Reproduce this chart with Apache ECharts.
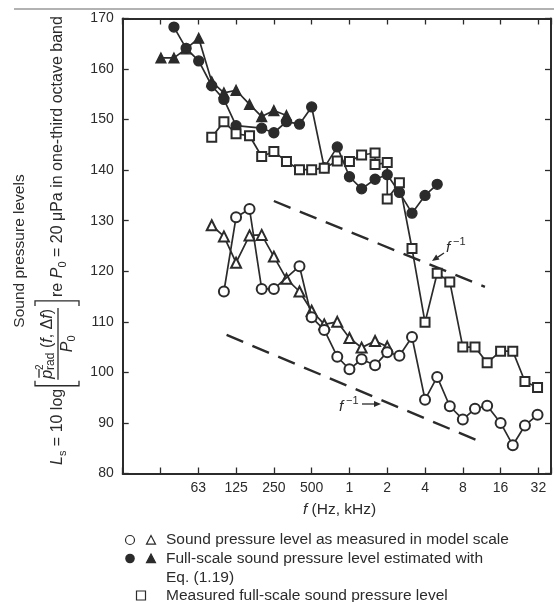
<!DOCTYPE html>
<html lang="en">
<head>
<meta charset="UTF-8" />
<title>Sound pressure levels</title>
<style>
  * { margin: 0; padding: 0; }
  body { background: #fff; }
  #chart { width: 554px; height: 602px; }
</style>
<script src="https://cdn.jsdelivr.net/npm/echarts@6/dist/echarts.min.js"></script>
</head>
<body>
<div id="chart"></div>
<script>
// one-third octave bands: [centre frequency in Hz, level in dB]
const fullScaleCircles = [
  [40, 168.3], [50, 164.1], [63, 161.6], [80, 156.7], [100, 154], [125, 148.8],
  [200, 148.3], [250, 147.4], [315, 149.6], [400, 149.1], [500, 152.5], [630, 140.5],
  [800, 144.6], [1000, 138.7], [1250, 136.3], [1600, 138.2], [2000, 139.1],
  [2500, 135.6], [3150, 131.5], [4000, 135], [5000, 137.2]
];
const fullScaleTriangles = [
  [31.5, 162.2], [40, 162.2], [50, 164], [63, 166.1], [80, 157.5], [100, 155.3],
  [125, 155.8], [160, 153], [200, 150.6], [250, 151.8], [315, 150.8]
];
const measuredSquares = [
  [80, 146.5], [100, 149.6], [125, 147.2], [160, 146.8], [200, 142.7], [250, 143.7],
  [315, 141.7], [400, 140.1], [500, 140.1], [630, 140.4], [800, 141.8], [1000, 141.7],
  [1250, 143], [1600, 143.4], [1600, 141.1], [2000, 141.5], [2000, 134.3], [2500, 137.5],
  [3150, 124.5], [4000, 109.9], [5000, 119.6], [6300, 117.9], [8000, 105], [10000, 105],
  [12500, 101.9], [16000, 104.2], [20000, 104.2], [25000, 98.2], [31500, 97]
];
const modelCircles = [
  [100, 116], [125, 130.7], [160, 132.3], [200, 116.5], [250, 116.5], [400, 121],
  [500, 110.9], [630, 108.4], [800, 103.1], [1000, 100.6], [1250, 102.6], [1600, 101.4],
  [2000, 104], [2500, 103.3], [3150, 107], [4000, 94.6], [5000, 99.1], [6300, 93.3],
  [8000, 90.7], [10000, 92.8], [12500, 93.4], [16000, 90], [20000, 85.6], [25000, 89.5],
  [31500, 91.6]
];
const modelTriangles = [
  [80, 129.1], [100, 126.9], [125, 121.7], [160, 127.1], [200, 127.2], [250, 122.9],
  [315, 118.5], [400, 116], [500, 112.2], [630, 109.5], [800, 110], [1000, 106.8],
  [1250, 104.9], [1600, 106.2], [2000, 105.1]
];
// f^-1 guide lines
const slopeUpper = [[250, 133.9], [12000, 116.9]];
const slopeLower = [[105, 107.4], [10100, 86.7]];

// octave ticks from 1000/64 Hz up, labels in Hz then kHz
const octaveLabels = ['', '', '63', '125', '250', '500', '1', '2', '4', '8', '16', '32'];

const INK = '#2b2b2b';
const FONT = '"Liberation Sans", Arial, sans-serif';
const FS = 15.5;
const FF = 16; // formula size

const oct = (f) => Math.log2(f / 1000);
const pts = (arr) => arr.map(([f, L]) => [oct(f), L]);

const chart = echarts.init(document.getElementById('chart'));

// text width helper for laying out the axis formula
const mctx = document.createElement('canvas').getContext('2d');
function tw(text, size, italic) {
  mctx.font = (italic ? 'italic ' : '') + size + 'px ' + FONT;
  return mctx.measureText(text).width;
}

function txt(x, y, text, size, italic, extra) {
  return {
    type: 'text', x: x, y: y,
    style: Object.assign({
      text: text, fontSize: size, fontFamily: FONT,
      fontStyle: italic ? 'italic' : 'normal', fill: INK,
      verticalAlign: 'middle'
    }, extra || {})
  };
}

// y axis formula, laid out horizontally then rotated
function buildFormula() {
  const kids = [];
  let cx = 0;
  const put = (text, size, italic, dy) => {
    kids.push(txt(cx, dy || 0, text, size, italic));
    cx += tw(text, size, italic);
  };
  const stroke = { stroke: INK, lineWidth: 1.3, fill: null };
  put('L', FF, true);
  put('s', 11, false, 5);
  put(' = 10 log', FF, false);
  cx += 3;
  kids.push({ type: 'polyline', shape: { points: [[cx + 5, -23], [cx, -23], [cx, 21], [cx + 5, 21]] }, style: stroke });
  cx += 7;
  const nx = cx;
  const pw = tw('p', FF, true);
  put('p', FF, true, -10);
  kids.push({ type: 'line', shape: { x1: nx + 1, y1: -19, x2: nx + pw + 1, y2: -19 }, style: stroke });
  kids.push(txt(cx, -18, '2', 10, false));
  put('rad', 12, false, -7);
  put(' (', FF, false, -10);
  put('f', FF, true, -10);
  put(', \u0394', FF, false, -10);
  put('f', FF, true, -10);
  put(')', FF, false, -10);
  const nEnd = cx;
  kids.push({ type: 'line', shape: { x1: nx - 1, y1: 0, x2: nEnd + 1, y2: 0 }, style: stroke });
  const dw = tw('P', FF, true) + tw('0', 11, false);
  const dx = (nx + nEnd - dw) / 2;
  kids.push(txt(dx, 10, 'P', FF, true));
  kids.push(txt(dx + tw('P', FF, true), 14, '0', 11, false));
  cx = nEnd + 3;
  kids.push({ type: 'polyline', shape: { points: [[cx, -23], [cx + 5, -23], [cx + 5, 21], [cx, 21]] }, style: stroke });
  cx += 9;
  put('re ', FF, false);
  put('P', FF, true);
  put('0', 11, false, 5);
  put(' = 20 \u03bcPa in one-third octave band', FF, false);
  return kids;
}

function arrow(x1, y1, x2, y2) {
  const a = Math.atan2(y2 - y1, x2 - x1), L = 7, W = 3;
  const bx = x2 - L * Math.cos(a), by = y2 - L * Math.sin(a);
  return [
    { type: 'line', shape: { x1: x1, y1: y1, x2: bx, y2: by }, style: { stroke: INK, lineWidth: 1.3 } },
    { type: 'polygon', shape: { points: [[x2, y2], [bx - W * Math.sin(a), by + W * Math.cos(a)], [bx + W * Math.sin(a), by - W * Math.cos(a)]] }, style: { fill: INK } }
  ];
}

function tri(cx, cy, s, filled) {
  return {
    type: 'polygon',
    shape: { points: [[cx, cy - s * 0.55], [cx + s * 0.5, cy + s * 0.4], [cx - s * 0.5, cy + s * 0.4]] },
    style: { fill: filled ? INK : '#fff', stroke: INK, lineWidth: 1.2 }
  };
}

const legendRows = [540, 558.5, 577.5, 595.5];
const graphics = [
  { type: 'line', shape: { x1: 14, y1: 9, x2: 554, y2: 9 }, style: { stroke: '#666', lineWidth: 1.2 } },
  Object.assign(txt(20, 251, 'Sound pressure levels', FS, false, { align: 'center' }), { rotation: Math.PI / 2 }),
  { type: 'group', x: 58, y: 465, rotation: Math.PI / 2, children: buildFormula() },
  txt(303, 510, 'f', FS, true),
  txt(303 + tw('f ', FS, true), 510, '(Hz, kHz)', FS, false),
  // f^-1 notes
  txt(446, 248, 'f', FS, true),
  txt(453, 242, '\u22121', 11, false),
  ...arrow(444, 253, 432, 261),
  txt(339, 407, 'f', FS, true),
  txt(346, 401, '\u22121', 11, false),
  ...arrow(362, 404, 381, 404),
  // legend
  { type: 'circle', shape: { cx: 130, cy: legendRows[0], r: 4.5 }, style: { fill: '#fff', stroke: INK, lineWidth: 1.2 } },
  tri(151, legendRows[0] + 0.5, 9, false),
  txt(166, legendRows[0], 'Sound pressure level as measured in model scale', FS, false),
  { type: 'circle', shape: { cx: 130, cy: legendRows[1], r: 4.8 }, style: { fill: INK } },
  tri(151, legendRows[1] + 0.5, 9, true),
  txt(166, legendRows[1], 'Full-scale sound pressure level estimated with', FS, false),
  txt(166, legendRows[2], 'Eq. (1.19)', FS, false),
  { type: 'rect', shape: { x: 136.5, y: legendRows[3] - 4.5, width: 9, height: 9 }, style: { fill: '#fff', stroke: INK, lineWidth: 1.2 } },
  txt(166, legendRows[3], 'Measured full-scale sound pressure level', FS, false)
];

const baseX = {
  type: 'value', min: -6, max: 16 / 3, interval: 1,
  axisLine: { onZero: false, lineStyle: { color: INK, width: 2 } },
  axisTick: { inside: true, length: 6, lineStyle: { color: INK, width: 1.3 } },
  splitLine: { show: false }
};
const baseY = {
  type: 'value', min: 80, max: 170, interval: 10,
  axisLine: { show: true, onZero: false, lineStyle: { color: INK, width: 2 } },
  axisTick: { show: true, inside: true, length: 6, lineStyle: { color: INK, width: 1.3 } },
  splitLine: { show: false }
};

function lineSeries(data, symbol, size, z) {
  return {
    type: 'line', data: pts(data), symbol: symbol, symbolSize: size, z: z,
    lineStyle: { color: INK, width: 1.7 },
    itemStyle: { color: INK, borderColor: INK, borderWidth: 1.3 },
    emphasis: { disabled: true }
  };
}
function dashSeries(data) {
  return {
    type: 'line', data: pts(data), symbol: 'none', z: 2,
    lineStyle: { color: INK, width: 2.4, type: [18, 10] }
  };
}

chart.setOption({
  animation: false,
  grid: { left: 122.7, top: 18.5, right: -3.9, bottom: 128.5 },
  xAxis: [
    Object.assign({}, baseX, {
      position: 'bottom',
      axisLabel: {
        fontSize: 14, fontFamily: FONT, color: INK, margin: 8,
        formatter: (v) => (Number.isInteger(v) ? octaveLabels[v + 6] : '')
      }
    }),
    Object.assign({}, baseX, { position: 'top', axisLabel: { show: false } })
  ],
  yAxis: [
    Object.assign({}, baseY, {
      position: 'left',
      axisLabel: { fontSize: 14, fontFamily: FONT, color: INK, margin: 9 }
    }),
    Object.assign({}, baseY, { position: 'right', axisLabel: { show: false } })
  ],
  series: [
    dashSeries(slopeUpper),
    dashSeries(slopeLower),
    lineSeries(fullScaleTriangles, 'triangle', 10, 3),
    lineSeries(fullScaleCircles, 'circle', 10, 4),
    lineSeries(measuredSquares, 'emptyRect', 9, 5),
    lineSeries(modelTriangles, 'emptyTriangle', 10, 3),
    lineSeries(modelCircles, 'emptyCircle', 10, 4)
  ],
  graphic: graphics
});
</script>
</body>
</html>
